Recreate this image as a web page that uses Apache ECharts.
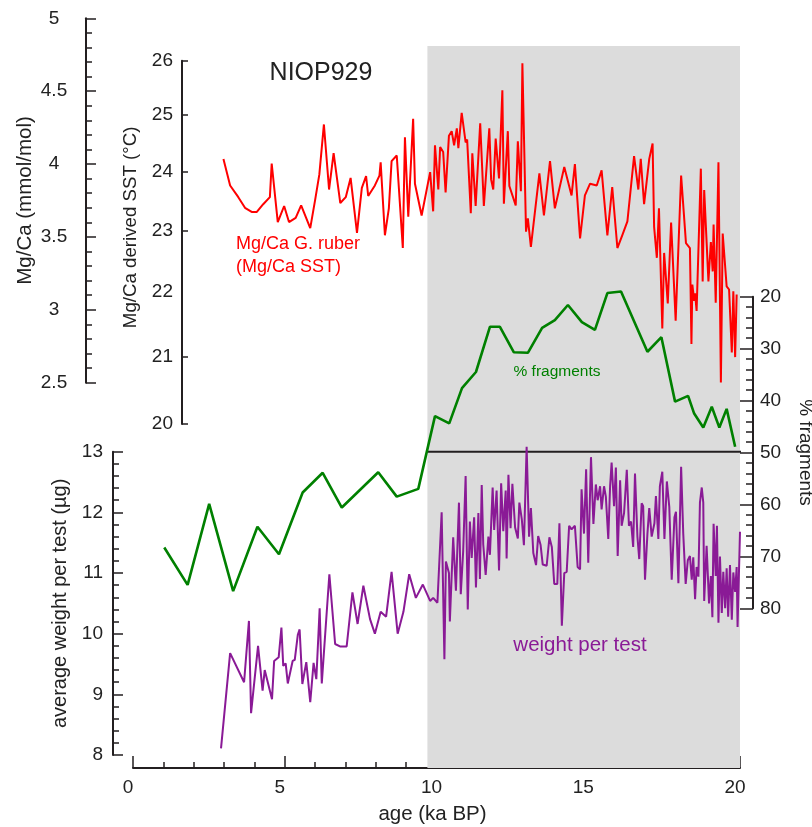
<!DOCTYPE html>
<html>
<head>
<meta charset="utf-8">
<script src="https://cdn.jsdelivr.net/npm/echarts@6.0.0/dist/echarts.min.js"></script>
<style>
  html, body { margin: 0; padding: 0; background: #ffffff; }
  #chart { width: 812px; height: 827px; }
</style>
</head>
<body>
<div id="chart"></div>
<script>
// Core NIOP929: Mg/Ca-derived SST, % fragments and average test weight against age (ka BP)

// Mg/Ca G. ruber SST (°C)
const sstAge = [2.98,3.20,3.47,3.69,3.91,4.08,4.29,4.51,4.57,4.77,4.98,5.14,5.36,5.54,5.84,6.00,6.14,6.29,6.46,6.61,6.83,7.01,7.17,7.38,7.54,7.68,7.75,7.97,8.12,8.16,8.30,8.43,8.52,8.69,8.89,8.96,9.07,9.23,9.29,9.51,9.79,9.89,9.95,10.06,10.12,10.22,10.30,10.41,10.50,10.58,10.67,10.72,10.83,10.96,11.01,11.13,11.18,11.29,11.44,11.56,11.74,11.80,11.87,11.95,12.06,12.17,12.22,12.35,12.40,12.61,12.68,12.78,12.83,12.95,13.01,13.11,13.25,13.39,13.54,13.74,13.90,14.21,14.45,14.56,14.73,14.89,15.06,15.28,15.44,15.63,15.79,15.96,16.12,16.29,16.51,16.65,16.73,16.84,17.01,17.12,17.17,17.26,17.33,17.44,17.50,17.62,17.73,17.88,18.06,18.22,18.35,18.40,18.43,18.49,18.52,18.57,18.71,18.77,18.82,18.96,19.04,19.10,19.13,19.20,19.29,19.37,19.43,19.56,19.64,19.73,19.78,19.84,19.89];
const sstValue = [24.22,23.76,23.56,23.38,23.31,23.31,23.44,23.56,24.14,23.14,23.41,23.14,23.21,23.42,23.04,23.51,23.95,24.83,23.69,24.32,23.46,23.56,23.89,22.96,23.72,23.92,23.58,23.76,23.93,24.16,22.92,23.37,24.18,24.28,22.71,24.60,23.23,24.93,23.79,23.25,23.99,23.32,24.46,23.69,24.43,24.34,23.64,24.63,24.71,24.46,24.76,24.41,25.04,24.51,24.56,23.29,24.32,23.41,24.85,23.41,24.76,23.86,23.69,24.58,23.88,25.45,23.45,24.71,23.75,23.42,24.53,23.66,25.95,22.98,23.20,22.73,23.34,23.97,23.25,24.18,23.37,24.08,23.59,24.13,22.87,23.59,23.79,23.76,24.02,22.92,23.73,22.71,22.92,23.15,24.27,23.69,24.22,23.44,24.22,24.49,23.06,22.55,23.37,21.43,22.63,21.82,23.13,21.55,23.93,22.79,22.71,21.19,22.12,21.86,21.98,21.70,24.05,22.17,23.68,22.17,22.81,22.33,23.10,21.83,24.16,20.61,22.95,22.09,22.04,21.06,22.01,20.99,21.96];

// % fragments (plotted on an inverted axis)
const fragAge = [1.03,1.80,2.51,3.30,4.10,4.81,5.59,6.25,6.88,8.08,8.69,9.40,9.95,10.42,10.84,11.30,11.76,12.09,12.55,13.01,13.48,13.90,14.33,14.79,15.22,15.63,16.08,16.95,17.41,17.86,18.29,18.49,18.79,19.07,19.32,19.56,19.84];
const fragValue = [68.3,75.5,59.9,76.7,64.3,69.6,57.7,53.9,60.6,53.8,58.5,57.0,43.0,44.4,37.6,34.5,25.8,25.8,30.7,30.8,26.0,24.5,21.6,24.9,26.4,19.3,19.0,30.6,27.8,40.2,39.1,42.5,45.2,41.2,45.2,41.6,48.9];

// Average weight per test (µg)
const weightAge = [2.90,3.20,3.66,3.82,3.89,4.12,4.27,4.34,4.58,4.65,4.80,4.89,4.95,5.03,5.10,5.26,5.33,5.43,5.49,5.58,5.71,5.84,5.95,6.04,6.15,6.22,6.47,6.66,6.82,7.04,7.23,7.40,7.59,7.81,7.97,8.16,8.34,8.52,8.72,8.91,9.10,9.32,9.55,9.79,9.89,10.03,10.17,10.26,10.31,10.41,10.44,10.55,10.64,10.74,10.80,10.88,10.96,11.03,11.10,11.16,11.24,11.30,11.38,11.43,11.49,11.54,11.62,11.71,11.76,11.85,11.90,11.98,12.06,12.13,12.20,12.28,12.31,12.37,12.44,12.50,12.59,12.68,12.73,12.81,12.88,12.97,13.05,13.11,13.19,13.28,13.35,13.43,13.50,13.63,13.72,13.80,13.88,13.98,14.05,14.13,14.21,14.29,14.37,14.45,14.56,14.65,14.73,14.78,14.86,14.93,15.00,15.09,15.17,15.25,15.31,15.39,15.44,15.52,15.58,15.66,15.72,15.77,15.85,15.91,15.97,16.05,16.10,16.18,16.27,16.34,16.41,16.48,16.54,16.62,16.68,16.76,16.81,16.87,16.95,17.01,17.09,17.18,17.23,17.31,17.36,17.44,17.51,17.59,17.67,17.75,17.84,17.89,17.97,18.06,18.13,18.21,18.28,18.35,18.41,18.46,18.52,18.57,18.63,18.68,18.74,18.79,18.82,18.90,18.98,19.04,19.09,19.13,19.20,19.24,19.29,19.34,19.40,19.45,19.51,19.56,19.61,19.67,19.73,19.78,19.84,19.89,19.92,20.00];
const weightValue = [8.11,9.68,9.20,10.21,8.69,9.80,9.06,9.40,8.92,9.55,9.61,10.10,9.47,9.51,9.18,9.55,9.57,9.98,10.07,9.17,9.53,8.87,9.52,9.25,10.42,9.18,10.98,9.83,9.79,9.79,10.68,10.16,10.79,10.24,10.00,10.36,10.28,11.02,10.00,10.36,10.98,10.59,10.81,10.54,10.59,10.51,12.00,9.58,11.19,11.00,10.20,11.59,10.71,12.16,10.65,11.37,12.60,10.40,11.85,11.25,11.92,10.76,11.99,10.90,12.45,11.47,10.97,11.60,11.30,12.41,11.71,12.36,11.04,12.48,11.69,12.36,11.24,12.62,11.74,12.47,11.75,11.57,12.16,11.89,11.46,13.08,11.60,12.07,11.33,11.13,11.61,11.46,11.14,11.12,11.59,11.43,10.82,10.82,11.82,10.13,11.00,11.02,11.78,11.72,11.78,11.10,11.06,12.38,11.65,12.71,11.17,12.91,11.81,12.46,12.20,12.43,12.05,12.43,12.26,11.56,12.43,12.82,12.10,12.74,11.28,12.53,11.78,11.99,12.70,11.78,11.85,11.43,12.64,11.60,11.23,12.15,12.10,10.89,11.65,12.07,11.60,11.82,12.27,11.56,12.43,12.67,11.56,12.51,12.09,10.89,11.92,12.01,10.83,12.75,11.65,10.82,11.21,11.28,10.89,11.26,10.57,11.10,10.94,12.16,12.41,12.16,10.54,11.45,10.50,10.95,10.27,11.81,10.95,11.78,10.18,11.27,10.34,11.02,10.42,11.08,10.28,11.13,10.23,11.01,10.69,11.10,10.11,11.68];

// Axis tick values
const sstLabels = [20, 21, 22, 23, 24, 25, 26];
const sstTickMarks = [20, 21, 23, 24, 25, 26];

// Shaded interval (ka BP) and the 13 µg / 50 % divider line
const shadedSpan = [9.7, 20];
const dividerAge = [9.7, 20.43];
const dividerValue = [13, 13];

const INK = '#231f20';
const TEXT = '#222222';
const FONT = '"Liberation Sans", Arial, Helvetica, sans-serif';
const RED = '#ff0000';
const GREEN = '#008000';
const PURPLE = '#8a1a96';

const pair = (xs, ys) => xs.map((x, i) => [x, ys[i]]);

function yAxisBase(o) {
  return Object.assign({
    type: 'value',
    splitLine: { show: false },
    minorSplitLine: { show: false },
    axisLine: { show: true, onZero: false, lineStyle: { color: INK, width: 2 } },
    nameLocation: 'middle',
    nameTextStyle: { color: TEXT, fontSize: 20, fontFamily: FONT },
  }, o);
}

const hiddenX = (i) => ({ gridIndex: i, type: 'value', min: 0, max: 20, show: false });

const chart = echarts.init(document.getElementById('chart'), null, { renderer: 'canvas' });

const option = {
  animation: false,
  backgroundColor: '#ffffff',
  grid: [
    { left: 133, width: 607, top: 46, height: 722, outerBoundsMode: 'none' },     // shading + age axis
    { left: 133, width: 607, top: 18.3, height: 364.4, outerBoundsMode: 'none' }, // Mg/Ca
    { left: 133, width: 607, top: 60.7, height: 363.3, outerBoundsMode: 'none' }, // SST
    { left: 133, width: 607, top: 296.7, height: 311.6, outerBoundsMode: 'none' },// % fragments
    { left: 133, width: 607, top: 451.7, height: 303.3, outerBoundsMode: 'none' } // weight
  ],
  xAxis: [
    {
      gridIndex: 0, type: 'value', min: 0, max: 20, interval: 5, position: 'bottom',
      axisLine: { show: true, onZero: false, lineStyle: { color: INK, width: 2 } },
      axisTick: { show: true, inside: true, length: 12, lineStyle: { color: INK, width: 1.5 } },
      minorTick: { show: true, splitNumber: 5, length: 6, lineStyle: { color: INK, width: 1.5 } },
      splitLine: { show: false },
      axisLabel: { color: TEXT, fontSize: 19, fontFamily: FONT, margin: 10, padding: [0, 10, 0, 0] },
      name: 'age (ka BP)', nameLocation: 'middle', nameGap: 36,
      nameTextStyle: { color: TEXT, fontSize: 20.5, fontFamily: FONT, padding: [0, 8, 0, 0] }
    },
    hiddenX(1), hiddenX(2), hiddenX(3), hiddenX(4)
  ],
  yAxis: [
    { gridIndex: 0, type: 'value', min: 0, max: 1, show: false },
    yAxisBase({
      gridIndex: 1, min: 2.5, max: 5, interval: 0.5, position: 'left', offset: 47,
      axisTick: { show: true, inside: true, length: 10, lineStyle: { color: INK, width: 1.5 } },
      minorTick: { show: true, splitNumber: 5, length: 6, lineStyle: { color: INK, width: 1.5 } },
      axisLabel: { color: TEXT, fontSize: 19, fontFamily: FONT, margin: 32, align: 'center' },
      name: 'Mg/Ca (mmol/mol)', nameGap: 50, nameRotate: 90, nameMoveOverlap: false,
      nameTextStyle: { color: TEXT, fontSize: 20.5, fontFamily: FONT }
    }),
    yAxisBase({
      gridIndex: 2, type: 'log', min: 20, max: 26, position: 'left', offset: -49,
      axisTick: { show: true, inside: true, length: 6, customValues: sstTickMarks, lineStyle: { color: INK, width: 1.5 } },
      axisLabel: { color: TEXT, fontSize: 19, fontFamily: FONT, margin: 9, customValues: sstLabels },
      name: 'Mg/Ca derived SST (°C)', nameGap: 42, nameRotate: 90,
      nameTextStyle: { color: TEXT, fontSize: 18.7, fontFamily: FONT, padding: [0, 0, 0, 30] }
    }),
    yAxisBase({
      gridIndex: 3, min: 20, max: 80, interval: 10, inverse: true, position: 'right', offset: 13,
      axisTick: { show: true, inside: true, length: 13, lineStyle: { color: INK, width: 1.5 } },
      minorTick: { show: true, splitNumber: 5, length: 7, lineStyle: { color: INK, width: 1.5 } },
      axisLabel: { color: TEXT, fontSize: 19, fontFamily: FONT, margin: 7 },
      name: '% fragments', nameGap: 43, nameRotate: -90,
      nameTextStyle: { color: TEXT, fontSize: 19, fontFamily: FONT }
    }),
    yAxisBase({
      gridIndex: 4, min: 8, max: 13, interval: 1, position: 'left', offset: 20,
      axisTick: { show: true, inside: true, length: 10, lineStyle: { color: INK, width: 1.5 } },
      minorTick: { show: true, splitNumber: 5, length: 6, lineStyle: { color: INK, width: 1.5 } },
      axisLabel: { color: TEXT, fontSize: 19, fontFamily: FONT, margin: 10 },
      name: 'average weight per test (µg)', nameGap: 41, nameRotate: 90
    })
  ],
  series: [
    {
      name: 'shading', type: 'line', xAxisIndex: 0, yAxisIndex: 0, z: 1,
      data: [[shadedSpan[0], 0]], showSymbol: false, lineStyle: { opacity: 0 }, silent: true,
      markArea: {
        silent: true, label: { show: false },
        itemStyle: { color: '#dcdcdc' },
        data: [[{ xAxis: shadedSpan[0] }, { xAxis: shadedSpan[1] }]]
      }
    },
    {
      name: 'Mg/Ca SST', type: 'line', xAxisIndex: 2, yAxisIndex: 2, z: 4,
      data: pair(sstAge, sstValue), showSymbol: false, symbol: 'none',
      lineStyle: { color: RED, width: 2 }, silent: true
    },
    {
      name: '% fragments', type: 'line', xAxisIndex: 3, yAxisIndex: 3, z: 4, clip: false,
      data: pair(fragAge, fragValue), showSymbol: false, symbol: 'none',
      lineStyle: { color: GREEN, width: 2.6 }, silent: true
    },
    {
      name: 'weight per test', type: 'line', xAxisIndex: 4, yAxisIndex: 4, z: 4, clip: false,
      data: pair(weightAge, weightValue), showSymbol: false, symbol: 'none',
      lineStyle: { color: PURPLE, width: 2 }, silent: true
    },
    {
      name: 'divider', type: 'line', xAxisIndex: 4, yAxisIndex: 4, z: 3, clip: false,
      data: pair(dividerAge, dividerValue), showSymbol: false, symbol: 'none',
      lineStyle: { color: INK, width: 2 }, silent: true
    }
  ],
  graphic: [
    { type: 'text', x: 321, y: 73, z: 100, silent: true,
      style: { text: 'NIOP929', fill: TEXT, fontSize: 25, fontFamily: FONT, align: 'center', verticalAlign: 'middle' } },
    { type: 'text', x: 236, y: 244, z: 100, silent: true,
      style: { text: 'Mg/Ca G. ruber', fill: RED, fontSize: 18, fontFamily: FONT, align: 'left', verticalAlign: 'middle' } },
    { type: 'text', x: 236, y: 267, z: 100, silent: true,
      style: { text: '(Mg/Ca SST)', fill: RED, fontSize: 18, fontFamily: FONT, align: 'left', verticalAlign: 'middle' } },
    { type: 'text', x: 557, y: 372, z: 100, silent: true,
      style: { text: '% fragments', fill: GREEN, fontSize: 15.5, fontFamily: FONT, align: 'center', verticalAlign: 'middle' } },
    { type: 'text', x: 580, y: 645, z: 100, silent: true,
      style: { text: 'weight per test', fill: PURPLE, fontSize: 20.5, fontFamily: FONT, align: 'center', verticalAlign: 'middle' } }
  ]
};

chart.setOption(option);
</script>
</body>
</html>
